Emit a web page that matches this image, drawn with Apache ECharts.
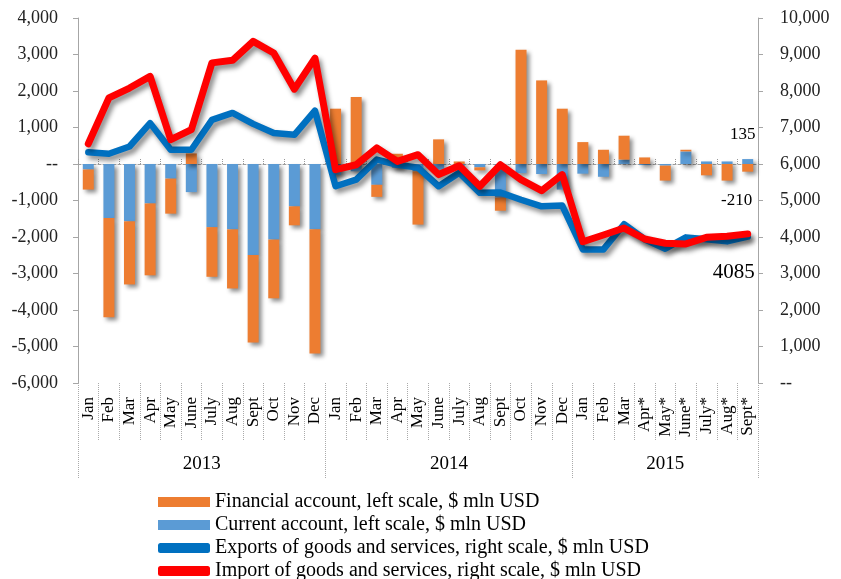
<!DOCTYPE html>
<html>
<head>
<meta charset="utf-8">
<script src="https://cdn.jsdelivr.net/npm/echarts/dist/echarts.min.js"></script>
<style>html,body{margin:0;padding:0;background:#fff;}#c{width:841px;height:579px;}</style>
</head>
<body>
<div id="c"></div>
<script>
const months = ['Jan','Feb','Mar','Apr','May','June','July','Aug','Sept','Oct','Nov','Dec',
  'Jan','Feb','Mar','Apr','May','June','July','Aug','Sept','Oct','Nov','Dec',
  'Jan','Feb','Mar','Apr*','May*','June*','July*','Aug*','Sept*'];
const years = ['2013','2014','2015'];
const yearStart = [0, 12, 24, 33];
const yearMid = [6, 18, 28.5];

const financialAccount = [-550,-2720,-1730,-1970,-960,290,-1360,-1620,-2400,-1610,-520,-3400,
  1515,1835,-330,280,-1460,675,70,-85,-360,3130,2290,1515,
  600,390,655,180,-410,45,-310,-455,-210];
const currentAccount = [-150,-1480,-1570,-1080,-400,-770,-1730,-1790,-2490,-2070,-1160,-1790,
  -300,-200,-570,-100,-200,-150,-50,-90,-920,-250,-275,-700,
  -265,-350,120,-30,-45,345,70,70,135];
const exportsGS = [6320,6280,6480,7120,6390,6390,7210,7400,7100,6850,6800,7460,
  5390,5570,6120,5980,5900,5390,5760,5210,5220,5020,4840,4860,
  3660,3660,4350,3940,3680,3990,3940,3880,4010];
const importsGS = [6555,7810,8080,8400,6665,6940,8770,8840,9360,9040,8050,8900,
  5845,5980,6440,6070,6255,5710,5950,5390,5980,5570,5270,5710,
  3870,4055,4245,3945,3830,3810,3990,4020,4085];

const FONT = 'Liberation Serif';
const fmt = v => v === 0 ? '--' : (v < 0 ? '-' : '') + Math.abs(v).toLocaleString('en-US');
const last = months.length - 1;
const shadow = {shadowBlur: 4, shadowColor: 'rgba(0,0,0,0.45)', shadowOffsetX: 3, shadowOffsetY: 3};
const lineShadow = {shadowBlur: 5, shadowColor: 'rgba(0,0,0,0.45)', shadowOffsetX: 3, shadowOffsetY: 4};

const caData = currentAccount.map((v, i) => i === last ? {value: v, label: {show: true, position: 'top', offset: [-5, -11], formatter: '{c}', color: '#000', fontFamily: FONT, fontSize: 17}} : v);
const faData = financialAccount.map((v, i) => i === last ? {value: v, label: {show: true, position: 'bottom', offset: [-11, 15], formatter: '{c}', color: '#000', fontFamily: FONT, fontSize: 17}} : v);
const imData = importsGS.map((v, i) => i === last ? {value: v, symbol: 'circle', symbolSize: 1, itemStyle: {opacity: 0},
  label: {show: true, position: 'bottom', offset: [-14, 23], formatter: '{c}', color: '#000', fontFamily: FONT, fontSize: 21, opacity: 1}} : v);

const chart = echarts.init(document.getElementById('c'));
chart.setOption({
  animation: false,
  backgroundColor: '#fff',
  textStyle: {fontFamily: FONT},
  grid: {left: 78, right: 83, top: 18, bottom: 196, containLabel: false},
  legend: {
    orient: 'vertical', left: 158, top: 492, height: 150, itemGap: 3, itemWidth: 52, itemHeight: 10, padding: 0,
    textStyle: {fontFamily: FONT, fontSize: 20, color: '#000'},
    data: [
      {name: 'Financial account, left scale, $ mln USD', icon: 'rect'},
      {name: 'Current account, left scale, $ mln USD', icon: 'rect'},
      {name: 'Exports of goods and services, right scale, $ mln USD', icon: 'roundRect'},
      {name: 'Import of goods and services, right scale, $ mln USD', icon: 'roundRect'}
    ]
  },
  xAxis: [
    {type: 'category', data: months, gridIndex: 0, position: 'bottom',
     axisLine: {onZero: true, onZeroAxisIndex: 0, lineStyle: {color: '#a0a0a0', width: 1, type: [3, 2]}},
     axisTick: {show: true, inside: true, length: 6, interval: 0, lineStyle: {color: '#999', type: 'dotted'}},
     axisLabel: {show: false}, splitLine: {show: false}},
    {type: 'category', data: months, gridIndex: 0, position: 'bottom', offset: 0,
     axisLine: {show: false},
     axisTick: {show: true, length: 57, interval: 0, lineStyle: {color: '#aaa', type: 'dotted'}},
     axisLabel: {show: true, interval: 0, rotate: 90, margin: 14, fontFamily: FONT, fontSize: 17, color: '#000'},
     splitLine: {show: false}},
    {type: 'value', gridIndex: 0, position: 'bottom', offset: 0, min: 0, max: 33,
     axisLine: {show: false}, splitLine: {show: false},
     axisTick: {show: true, customValues: yearStart, length: 95, lineStyle: {color: '#aaa', type: 'dotted'}},
     axisLabel: {show: true, customValues: yearMid, margin: 72, fontFamily: FONT, fontSize: 19, color: '#000',
       formatter: v => years[yearMid.indexOf(v)]}}
  ],
  yAxis: [
    {type: 'value', min: -6000, max: 4000, interval: 1000, position: 'left',
     axisLine: {show: true, lineStyle: {color: '#a6a6a6'}},
     axisTick: {show: true, length: 5, lineStyle: {color: '#a6a6a6'}},
     axisLabel: {formatter: fmt, margin: 20, fontFamily: FONT, fontSize: 18, color: '#222'},
     splitLine: {show: false}},
    {type: 'value', min: 0, max: 10000, interval: 1000, position: 'right',
     axisLine: {show: true, lineStyle: {color: '#a6a6a6'}},
     axisTick: {show: true, length: 5, lineStyle: {color: '#a6a6a6'}},
     axisLabel: {formatter: fmt, margin: 22, align: 'left', fontFamily: FONT, fontSize: 18, color: '#222'},
     splitLine: {show: false}}
  ],
  series: [
    {name: 'Current account, left scale, $ mln USD', type: 'bar', stack: 'acc', xAxisIndex: 0, yAxisIndex: 0,
     barWidth: 11, data: caData, itemStyle: Object.assign({color: '#5B9BD5'}, shadow)},
    {name: 'Financial account, left scale, $ mln USD', type: 'bar', stack: 'acc', xAxisIndex: 0, yAxisIndex: 0,
     barWidth: 11, data: faData, itemStyle: Object.assign({color: '#ED7D31'}, shadow)},
    {name: 'Exports of goods and services, right scale, $ mln USD', type: 'line', xAxisIndex: 0, yAxisIndex: 1,
     data: exportsGS, symbol: 'none', itemStyle: {color: '#0070C0'},
     lineStyle: Object.assign({color: '#0070C0', width: 6.5, cap: 'round', join: 'round'}, lineShadow)},
    {name: 'Import of goods and services, right scale, $ mln USD', type: 'line', xAxisIndex: 0, yAxisIndex: 1,
     data: imData, symbol: 'none', itemStyle: {color: '#FF0000'},
     lineStyle: Object.assign({color: '#FF0000', width: 7, cap: 'round', join: 'round'}, lineShadow)}
  ]
});
</script>
</body>
</html>
